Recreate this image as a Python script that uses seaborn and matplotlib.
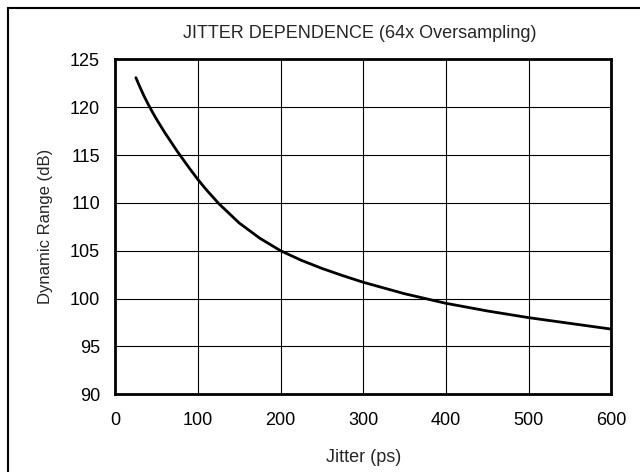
import matplotlib
matplotlib.use("Agg")
import matplotlib.pyplot as plt
import seaborn as sns
import pandas as pd

jitter_ps = [25, 30, 35, 40, 45, 50, 60, 75, 90, 100, 110, 125, 150, 175, 200,
             225, 250, 275, 300, 350, 400, 450, 500, 550, 600]
dynamic_range_db = [123.1, 122.1, 121.15, 120.3, 119.5, 118.75, 117.35, 115.4, 113.6, 112.45, 111.4,
                    109.95, 107.9, 106.3, 105.0, 104.0, 103.15, 102.4, 101.7, 100.5, 99.5,
                    98.7, 98.0, 97.4, 96.8]
x_ticks = [0, 100, 200, 300, 400, 500, 600]
y_ticks = [90, 95, 100, 105, 110, 115, 120, 125]

df = pd.DataFrame({"Jitter": jitter_ps, "DR": dynamic_range_db})

sns.set_style("white")
plt.rcParams['font.family'] = ['Liberation Sans', 'DejaVu Sans']

fig = plt.figure(figsize=(6.4, 4.72), dpi=100)
ax = fig.add_axes([0.180, 0.165, 0.775, 0.709])

sns.lineplot(data=df, x="Jitter", y="DR", color="black", linewidth=2, ax=ax)

ax.set_xlim(0, 600)
ax.set_ylim(90, 125)
ax.set_xticks(x_ticks)
ax.set_yticks(y_ticks)
ax.grid(True, color="black", linewidth=0.8)
ax.tick_params(axis="both", length=0, labelsize=13, colors="black")
ax.tick_params(axis="x", pad=13)
ax.tick_params(axis="y", pad=11)
for sp in ax.spines.values():
    sp.set_color("black")
    sp.set_linewidth(2)

ax.set_xlabel("Jitter (ps)", fontsize=13, labelpad=14)
ax.set_ylabel("Dynamic Range (dB)", fontsize=12, labelpad=12)
fig.text(0.5628, 0.93, "JITTER DEPENDENCE (64x Oversampling)", ha="center", va="center", fontsize=13)

# frame round the whole figure, running off the right and bottom edges
fig.patches.append(plt.Rectangle((0.0125, -0.05), 1.05, 1.033, transform=fig.transFigure,
                                 fill=False, edgecolor="black", linewidth=1.5))

fig.savefig("out.png", dpi=100)
